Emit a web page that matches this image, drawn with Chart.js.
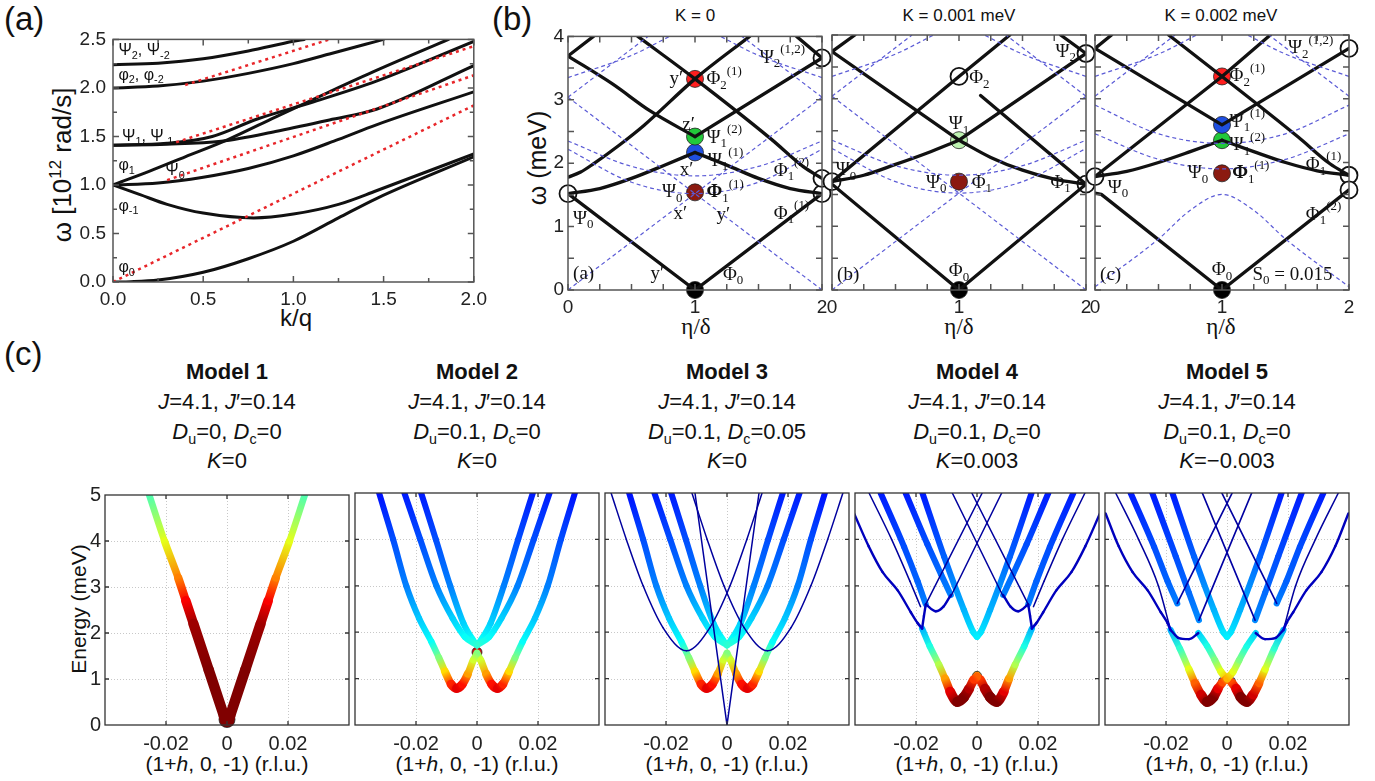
<!DOCTYPE html>
<html>
<head>
<meta charset="utf-8">
<script src="https://cdn.jsdelivr.net/npm/chart.js@4.4.1/dist/chart.umd.min.js"></script>
<style>
  body { margin: 0; width: 1375px; height: 781px; background: #fff; position: relative; overflow: hidden;
         font-family: "Liberation Sans", Arial, sans-serif; color: #111; }
  canvas { position: absolute; }
  .t { position: absolute; white-space: nowrap; line-height: 1; }
  .c { transform: translate(-50%, -50%); }
  .rot { transform: translate(-50%, -50%) rotate(-90deg); }
  .serif { font-family: "Liberation Serif", "DejaVu Serif", serif; }
  sub, sup { font-size: 0.65em; line-height: 0; }
</style>
</head>
<body>

<div class="t" style="left:4px;top:2px;font-size:33px">(a)</div>
<div class="t" style="left:492px;top:2px;font-size:33px">(b)</div>
<div class="t" style="left:4px;top:337px;font-size:33px">(c)</div>

<div class="t rot" style="left:62px;top:165px;font-size:26px">ω [10<sup>12</sup> rad/s]</div>
<div class="t c" style="left:296px;top:318px;font-size:24px">k/q</div>

<div class="t rot" style="left:537px;top:158px;font-size:25px">ω (meV)</div>
<div class="t c" style="left:695px;top:15px;font-size:17px">K = 0</div>
<div class="t c" style="left:959px;top:15px;font-size:17px">K = 0.001 meV</div>
<div class="t c" style="left:1221px;top:15px;font-size:17px">K = 0.002 meV</div>
<div class="t c serif" style="left:696px;top:326px;font-size:23px">η/δ</div>
<div class="t c serif" style="left:959px;top:326px;font-size:23px">η/δ</div>
<div class="t c serif" style="left:1221px;top:326px;font-size:23px">η/δ</div>

<div class="t rot" style="left:78px;top:609px;font-size:21px">Energy (meV)</div>
<div id="titles"></div>

<script>
// ---------- panel (a): omega vs k/q ----------
const aPsi2   = [[0,2.24],[0.25,2.255],[0.5,2.3],[0.75,2.38],[1.0,2.48],[1.06,2.5]];
const aPhi2   = [[0,2.0],[0.25,2.02],[0.5,2.07],[0.75,2.15],[1.0,2.25],[1.2,2.35],[1.4,2.45],[1.5,2.5]];
const aPhi1   = [[0,1.0],[0.2,1.14],[0.4,1.29],[0.64,1.47],[0.9,1.7],[1.2,1.96],[1.46,2.18],[1.86,2.5]];
const aPsi1p  = [[0,1.41],[0.3,1.43],[0.55,1.5],[0.8,1.68],[1.1,1.85],[1.46,2.07],[2,2.48]];
const aPsi1m  = [[0,1.41],[0.3,1.42],[0.6,1.45],[0.9,1.55],[1.2,1.67],[1.46,1.78],[2,2.23]];
const aPsi0   = [[0,1.0],[0.25,1.02],[0.5,1.08],[0.75,1.17],[1.0,1.3],[1.25,1.47],[1.46,1.62],[2,1.96]];
const aPhim1  = [[0,1.0],[0.15,0.9],[0.3,0.8],[0.5,0.71],[0.78,0.66],[1.0,0.7],[1.25,0.8],[1.46,0.94],[2,1.32]];
const aPhi0   = [[0,0],[0.1,0.003],[0.25,0.02],[0.5,0.1],[0.75,0.24],[1.0,0.42],[1.25,0.66],[1.46,0.86],[2,1.29]];
const aRed1   = [[0,0],[2,1.82]];
const aRed2   = [[0.3,1.05],[2,2.13]];
const aRed3   = [[0.35,1.44],[2,2.43]];
const aRed4   = [[0.4,2.03],[1.2,2.5]];
const aXTicks = [0, 0.5, 1, 1.5, 2];
const aYTicks = [0, 0.5, 1, 1.5, 2, 2.5];

// ---------- panel (b): omega vs eta/delta, three K values ----------
const b1Str = [
  [[0,1.52],[1,0],[2,1.52]],
  [[0.2,4],[0,3.69]],
  [[1,2.42],[2,3.66],[2.2,4]],
  [[1.8,4],[2,3.66]]
];
const b1Crv = [
  [[0,1.52],[0.25,1.6],[0.5,1.76],[0.75,1.96],[1,2.17]],
  [[1,2.17],[1.25,1.97],[1.5,1.76],[1.75,1.6],[2,1.52]],
  [[0,3.69],[0.35,3.25],[0.65,2.82],[1,2.42]],
  [[0,1.78],[0.1,1.86],[0.2,1.99],[0.4,2.28],[0.6,2.6],[1,3.33],[1.43,4]],
  [[0.55,4],[1,3.33],[1.6,2.38],[1.85,1.95],[2,1.76]]
];
const b1Open = [[0,1.52],[2,1.52],[2,1.76],[2,3.66]];
const b1Dots = [[1,0],[1,1.54],[1,2.17],[1,2.42],[1,3.33]];

const b2Str = [
  [[0,1.66],[1,0],[2,1.66]],
  [[0.18,4],[0,3.74],[1,2.35],[2,3.71]],
  [[0,1.7],[1,3.35],[1.4,4]],
  [[1.17,3.05],[2,1.66]],
  [[1.8,4],[2,3.71]]
];
const b2Crv = [
  [[0,1.7],[0.25,1.8],[0.5,1.97],[0.75,2.15],[1,2.35]],
  [[1,2.35],[1.25,2.08],[1.5,1.88],[1.75,1.74],[2,1.66]]
];
const b2Open = [[0,1.7],[1,3.35],[2,1.66],[2,3.71]];
const b2Dots = [[1,0],[1,1.7],[1,2.35]];

const b3Str = [
  [[0,1.52],[0.05,1.5],[1,0],[2,1.57]],
  [[0.13,4],[0,3.79],[1,2.59],[2,3.79]],
  [[0,1.78],[1,3.35],[1.38,4]]
];
const b3Crv = [
  [[0,1.78],[0.25,1.86],[0.5,2.0],[0.75,2.17],[1,2.35]],
  [[1,2.35],[1.25,2.17],[1.5,2.0],[1.75,1.87],[2,1.8]],
  [[0.58,4],[1,3.35],[1.6,2.4],[1.85,1.98],[2,1.8]]
];
const b3Open = [[0,1.78],[2,1.8],[2,1.57],[2,3.79]];
const b3Dots = [[1,0],[1,1.83],[1,2.35],[1,2.59],[1,3.35]];

const bDash = [
  [[0,0],[2,3.04]], [[2,0],[0,3.04]],
  [[0,3.04],[0.63,4]], [[2,3.04],[1.37,4]],
  [[0,2.22],[0.5,1.7],[1,1.52],[1.5,1.7],[2,2.22]],
  [[0,2.35],[0.5,1.95],[1,1.8],[1.5,1.95],[2,2.35]],
  [[0,3.35],[0.5,3.7],[0.8,4]], [[2,3.35],[1.5,3.7],[1.2,4]]
];
const b3Dash = [
  [[0,0.05],[0.5,0.8],[0.75,1.25],[1,1.5],[1.25,1.25],[1.5,0.8],[2,0.05]],
  [[0,3.04],[0.63,4]], [[2,3.04],[1.37,4]],
  [[0,2.45],[0.5,2.05],[1,1.9],[1.5,2.05],[2,2.45]],
  [[0,2.9],[0.5,2.45],[1,2.3],[1.5,2.45],[2,2.9]],
  [[0,3.35],[0.5,3.7],[0.8,4]], [[2,3.35],[1.5,3.7],[1.2,4]]
];
const bXTicks = [0, 1, 2];
const bYTicks = [0, 1, 2, 3, 4];

// ---------- panel (c): energy vs (1+h,0,-1), points are [h, E, intensity] ----------
const m1Left  = [[-0.0255,5,0.45],[-0.0205,4,0.6],[-0.016,3.2,0.75],[-0.0135,2.7,0.88],[-0.011,2.2,0.97],[-0.006,1.2,1],[-0.001,0.2,1],[0,0,1]];

const m2Outer = [[-0.0321,5,0.14],[-0.0275,4,0.2],[-0.0232,3,0.25],[-0.019,2.3,0.32],[-0.015,1.8,0.38],[-0.0125,1.45,0.5],[-0.0105,1.15,0.66],[-0.0085,0.88,0.84],[-0.0067,0.79,0.9],[-0.0048,0.88,0.86],[-0.003,1.1,0.72],[-0.0012,1.4,0.58],[0,1.55,0.5]];
const m2Mid   = [[-0.0238,5,0.15],[-0.0186,4,0.2],[-0.0133,3,0.25],[-0.008,2.3,0.33],[-0.004,1.9,0.38],[0,1.72,0.42]];
const m2Inner = [[-0.0183,5,0.15],[-0.0135,4,0.2],[-0.0088,3,0.25],[-0.0045,2.2,0.33],[-0.0015,1.85,0.38],[0,1.72,0.42]];

const m3ThinL = [[-0.038,5,0.03],[-0.033,4,0.03],[-0.0275,3,0.03],[-0.021,2.1,0.03],[-0.0133,1.6,0.03],[-0.0056,2.1,0.03],[0.001,3,0.03],[0.0065,4,0.03],[0.0115,5,0.03]];
const m3Vee   = [[-0.0105,5,0.03],[0,0,0.03]];

const m4Outer = [[-0.0316,5,0.15],[-0.0239,3.84,0.2],[-0.0195,3.1,0.22],[-0.0168,2.6,0.25]];
const m4Mid   = [[-0.0234,5,0.15],[-0.0163,3.9,0.2],[-0.0118,3.25,0.23],[-0.0086,2.8,0.25]];
const m4Inner = [[-0.0179,5,0.15],[-0.0108,3.63,0.22],[-0.0043,2.48,0.3],[-0.0012,2.0,0.35],[0,1.9,0.36]];
const m4Low   = [[-0.018,2.08,0.3],[-0.0155,1.7,0.4],[-0.0125,1.3,0.55],[-0.0105,1.0,0.72],[-0.0088,0.72,0.9],[-0.0064,0.5,1],[-0.0043,0.6,1],[-0.0026,0.78,0.95],[-0.001,0.98,0.82],[0,1.04,0.78]];
const m4Navy  = [[-0.0403,4.56,0.06],[-0.0355,3.85,0.06],[-0.031,3.3,0.06],[-0.026,2.9,0.06],[-0.0217,2.43,0.06],[-0.0195,2.2,0.06],[-0.018,2.08,0.08]];
const m4Hook  = [[-0.0168,2.6,0.06],[-0.0135,2.45,0.06],[-0.011,2.55,0.06],[-0.0086,2.8,0.06]];
const m4Link  = [[-0.018,2.08,0.06],[-0.0174,2.35,0.06],[-0.0168,2.6,0.06]];
const m4ThinA = [[-0.0168,2.6,0.03],[0.0017,5,0.03]];
const m4ThinB = [[-0.0081,5,0.03],[0.0086,2.77,0.03]];
const m4ThinC = [[-0.0354,5,0.03],[-0.028,4,0.03],[-0.022,3.1,0.03],[-0.0185,2.55,0.03]];

const m5Outer = [[-0.0316,5,0.15],[-0.0239,3.84,0.2],[-0.0195,3.1,0.22],[-0.0163,2.62,0.25]];
const m5Mid   = [[-0.0245,5,0.15],[-0.0168,3.63,0.2],[-0.0125,2.85,0.23],[-0.0092,2.26,0.26]];
const m5Inner = [[-0.0179,5,0.15],[-0.0108,3.63,0.22],[-0.0043,2.48,0.3],[-0.0012,2.0,0.35],[0,1.9,0.36]];
const m5Low   = [[-0.0185,2.05,0.3],[-0.0155,1.65,0.42],[-0.0125,1.2,0.6],[-0.0105,0.9,0.78],[-0.0085,0.65,0.92],[-0.0065,0.5,1],[-0.0045,0.6,1],[-0.003,0.78,0.9],[-0.0015,0.92,0.8],[0,1.0,0.7],[0.002,1.15,0.6],[0.004,1.4,0.5],[0.0065,1.7,0.4],[0.0094,1.98,0.33]];
const m5Navy  = [[-0.0398,4.56,0.06],[-0.0355,3.85,0.06],[-0.031,3.3,0.06],[-0.026,2.9,0.06],[-0.0217,2.43,0.06],[-0.0195,2.2,0.06],[-0.0185,2.05,0.08]];
const m5Hook  = [[-0.0185,2.05,0.06],[-0.016,1.88,0.06],[-0.0125,1.85,0.06],[-0.0094,1.98,0.06]];
const m5ThinA = [[-0.0163,2.62,0.04],[0.0017,5,0.03]];
const m5ThinB = [[-0.0092,2.26,0.04],[0.0081,5,0.03]];
const m5ThinC = [[-0.0365,5,0.03],[-0.029,4,0.03],[-0.0225,3,0.03],[-0.0185,2.05,0.03]];

const cXTicks = [-0.02, 0, 0.02];
const cYTicks = [0, 1, 2, 3, 4, 5];

const models = [
  ['Model 1', '<i>J</i>=4.1, <i>J</i>′=0.14', '<i>D</i><sub>u</sub>=0, <i>D</i><sub>c</sub>=0', '<i>K</i>=0'],
  ['Model 2', '<i>J</i>=4.1, <i>J</i>′=0.14', '<i>D</i><sub>u</sub>=0.1, <i>D</i><sub>c</sub>=0', '<i>K</i>=0'],
  ['Model 3', '<i>J</i>=4.1, <i>J</i>′=0.14', '<i>D</i><sub>u</sub>=0.1, <i>D</i><sub>c</sub>=0.05', '<i>K</i>=0'],
  ['Model 4', '<i>J</i>=4.1, <i>J</i>′=0.14', '<i>D</i><sub>u</sub>=0.1, <i>D</i><sub>c</sub>=0', '<i>K</i>=0.003'],
  ['Model 5', '<i>J</i>=4.1, <i>J</i>′=0.14', '<i>D</i><sub>u</sub>=0.1, <i>D</i><sub>c</sub>=0', '<i>K</i>=−0.003']
];

// ---------- helpers ----------
const M = { l: 60, r: 14, t: 14, b: 44 };

function jet(t) {
  const cl = v => Math.max(0, Math.min(1, v));
  const r = cl(1.5 - Math.abs(4 * t - 3)), g = cl(1.5 - Math.abs(4 * t - 2)), b = cl(1.5 - Math.abs(4 * t - 1));
  return 'rgb(' + Math.round(r * 255) + ',' + Math.round(g * 255) + ',' + Math.round(b * 255) + ')';
}
function widthFor(i) { return i < 0.1 ? 0.6 + 30 * i : 6 + 4.5 * i * i * i; }
const mirror = pts => pts.map(p => [-p[0], p[1], p[2]]).reverse();
const xy = pts => pts.map(p => ({ x: p[0], y: p[1] }));

function line(pts, color, width, extra) {
  return Object.assign({ data: xy(pts), showLine: true, pointRadius: 0, borderColor: color,
    borderWidth: width, cubicInterpolationMode: 'monotone', borderCapStyle: 'round', borderJoinStyle: 'round' }, extra || {});
}
function straight(pts, color, width, extra) {
  return line(pts, color, width, Object.assign({ cubicInterpolationMode: 'default', tension: 0 }, extra || {}));
}
function jetLine(pts) {
  const I = pts.map(p => p[2]);
  return {
    data: xy(pts), showLine: true, pointRadius: 0, cubicInterpolationMode: 'monotone',
    borderCapStyle: 'round', borderJoinStyle: 'round', borderWidth: widthFor(I[0]), borderColor: jet(I[0]),
    segment: {
      borderColor: ctx => {
        const g = ctx.chart.ctx.createLinearGradient(ctx.p0.x, ctx.p0.y, ctx.p1.x, ctx.p1.y);
        g.addColorStop(0, jet(I[ctx.p0DataIndex]));
        g.addColorStop(1, jet(I[ctx.p1DataIndex]));
        return g;
      },
      borderWidth: ctx => (widthFor(I[ctx.p0DataIndex]) + widthFor(I[ctx.p1DataIndex])) / 2
    }
  };
}
const both = c => [jetLine(c), jetLine(mirror(c))];
function dots(pts, colors, radius, open) {
  return { data: xy(pts), showLine: false, pointRadius: radius, clip: 20,
    pointBackgroundColor: open ? '#fff' : colors, pointBorderColor: open ? '#111' : '#222',
    pointBorderWidth: open ? 1.8 : 0.8 };
}

// frame, inward ticks, dotted grid and in-plot labels
const framePlugin = {
  id: 'frame',
  beforeDatasetsDraw(chart, args, o) {
    const { ctx, chartArea: a, scales: { x, y } } = chart;
    if (!o.grid) return;
    ctx.save();
    ctx.strokeStyle = '#c8c8c8'; ctx.lineWidth = 1; ctx.setLineDash([1, 2]);
    o.grid.x.forEach(v => { const px = Math.round(x.getPixelForValue(v)) + 0.5; ctx.beginPath(); ctx.moveTo(px, a.top); ctx.lineTo(px, a.bottom); ctx.stroke(); });
    o.grid.y.forEach(v => { const py = Math.round(y.getPixelForValue(v)) + 0.5; ctx.beginPath(); ctx.moveTo(a.left, py); ctx.lineTo(a.right, py); ctx.stroke(); });
    ctx.restore();
  },
  afterDatasetsDraw(chart, args, o) {
    const { ctx, chartArea: a, scales: { x, y } } = chart;
    ctx.save();
    ctx.strokeStyle = o.color || '#444'; ctx.lineWidth = o.width || 1.5;
    const tk = (vals, len) => {
      (vals.x || []).forEach(v => { const px = x.getPixelForValue(v);
        ctx.beginPath(); ctx.moveTo(px, a.bottom); ctx.lineTo(px, a.bottom - len); ctx.moveTo(px, a.top); ctx.lineTo(px, a.top + len); ctx.stroke(); });
      (vals.y || []).forEach(v => { const py = y.getPixelForValue(v);
        ctx.beginPath(); ctx.moveTo(a.left, py); ctx.lineTo(a.left + len, py); ctx.moveTo(a.right, py); ctx.lineTo(a.right - len, py); ctx.stroke(); });
    };
    if (o.major) tk(o.major, o.majorLen || 6);
    if (o.minor) tk(o.minor, o.minorLen || 4);
    ctx.strokeRect(a.left, a.top, a.right - a.left, a.bottom - a.top);
    ctx.restore();
  },
  afterDraw(chart, args, o) {
    if (!o.labels) return;
    const { ctx, scales: { x, y } } = chart;
    ctx.save();
    ctx.fillStyle = '#111'; ctx.textBaseline = 'middle';
    o.labels.forEach(l => {
      let px = x.getPixelForValue(l[0]); const py = y.getPixelForValue(l[1]);
      const size = o.size || 17, fam = o.family || '"Liberation Serif", serif';
      l[2].forEach(part => {
        const kind = part[1] || '';
        const s = kind ? size * 0.68 : size;
        ctx.font = (part[2] ? 'bold ' : '') + s + 'px ' + fam;
        const dy = kind === 'sub' ? size * 0.32 : kind === 'sup' ? -size * 0.42 : 0;
        ctx.fillText(part[0], px, py + dy);
        px += ctx.measureText(part[0]).width;
      });
    });
    ctx.restore();
  }
};
Chart.register(framePlugin);

function makeChart(box, xr, yr, xt, yt, datasets, opts) {
  const cv = document.createElement('canvas');
  const W = box.w + M.l + M.r, H = box.h + M.t + M.b;
  cv.width = W; cv.height = H;
  cv.style.left = (box.l - M.l) + 'px'; cv.style.top = (box.t - M.t) + 'px';
  cv.style.width = W + 'px'; cv.style.height = H + 'px';
  document.body.appendChild(cv);
  const tickFont = { family: '"Liberation Sans", Arial, sans-serif', size: opts.tickSize };
  new Chart(cv, {
    type: 'scatter',
    data: { datasets: datasets },
    options: {
      responsive: false, animation: false, devicePixelRatio: 1,
      layout: { padding: { left: 0, right: M.r, top: M.t, bottom: 0 } },
      plugins: { legend: { display: false }, tooltip: { enabled: false }, frame: opts.frame },
      scales: {
        x: { type: 'linear', min: xr[0], max: xr[1],
             afterBuildTicks: s => { s.ticks = xt.map(v => ({ value: v })); },
             afterFit: s => { s.height = M.b; },
             grid: { display: false, drawTicks: false }, border: { display: false },
             ticks: { display: opts.xLabels !== false, font: tickFont, color: '#222', padding: opts.xPad, maxRotation: 0, autoSkip: false, callback: opts.xFmt } },
        y: { type: 'linear', min: yr[0], max: yr[1],
             afterBuildTicks: s => { s.ticks = yt.map(v => ({ value: v })); },
             afterFit: s => { s.width = M.l; },
             grid: { display: false, drawTicks: false }, border: { display: false },
             ticks: { display: opts.yLabels !== false, font: tickFont, color: '#222', padding: opts.yPad, autoSkip: false, callback: opts.yFmt } }
      }
    }
  });
}

// ---------- panel (a) ----------
const K = '#111', RED = '#e8262a';
const redOpt = { borderDash: [3, 4], borderCapStyle: 'butt' };
const aMinorX = [0.25, 0.75, 1.25, 1.75], aMinorY = [0.25, 0.75, 1.25, 1.75, 2.25];
makeChart({ l: 113, t: 35, w: 366, h: 247 }, [0, 2], [0, 2.5], aXTicks, aYTicks, [
  straight(aRed1, RED, 2.5, redOpt), straight(aRed2, RED, 2.5, redOpt), straight(aRed3, RED, 2.5, redOpt), straight(aRed4, RED, 2.5, redOpt),
  line(aPsi2, K, 3), line(aPhi2, K, 3), line(aPhi1, K, 3), line(aPsi1p, K, 3), line(aPsi1m, K, 3),
  line(aPsi0, K, 3), line(aPhim1, K, 3), line(aPhi0, K, 3)
], {
  tickSize: 19, xPad: 6, yPad: 7,
  xFmt: v => v.toFixed(1), yFmt: v => v.toFixed(1),
  frame: { color: '#555', width: 1.5, major: { x: aXTicks, y: aYTicks }, minor: { x: aMinorX, y: aMinorY }, majorLen: 6, minorLen: 4,
    size: 16, family: '"Liberation Sans", sans-serif',
    labels: [
      [0.03, 2.38, [['Ψ'], ['2', 'sub'], [', Ψ'], ['-2', 'sub']]],
      [0.03, 2.13, [['φ'], ['2', 'sub'], [', φ'], ['-2', 'sub']]],
      [0.05, 1.5,  [['Ψ'], ['1', 'sub'], [', Ψ'], ['-1', 'sub']]],
      [0.03, 1.2,  [['φ'], ['1', 'sub']]],
      [0.29, 1.15, [['Ψ'], ['0', 'sub']]],
      [0.03, 0.78, [['φ'], ['-1', 'sub']]],
      [0.03, 0.15, [['φ'], ['0', 'sub']]]
    ] }
});

// ---------- panel (b) ----------
const BLUE = '#5b5bd6';
const bMinorX = [0.25, 0.5, 0.75, 1.25, 1.5, 1.75], bMinorY = [0.5, 1.5, 2.5, 3.5];
function bPanel(l, dash, str, crv, open, dotPts, dotCols, labels, showY) {
  const ds = [];
  dash.forEach(d => ds.push(line(d, BLUE, 1.2, { borderDash: [4, 3], borderCapStyle: 'butt' })));
  str.forEach(p => ds.push(straight(p, K, 3.3)));
  crv.forEach(p => ds.push(line(p, K, 3.3)));
  ds.push(dots(open, '#fff', 8.5, true));
  ds.push(dots(dotPts, dotCols, 8.5, false));
  makeChart({ l: l, t: 35, w: 254, h: 255 }, [0, 2], [0, 4], bXTicks, bYTicks, ds, {
    tickSize: 19, xPad: 6, yPad: 4, yLabels: showY, xFmt: v => String(v), yFmt: v => String(v),
    frame: { color: '#555', width: 1.5, major: { x: bXTicks, y: bYTicks }, minor: { x: bMinorX, y: bMinorY }, majorLen: 6, minorLen: 6,
      size: 19, labels: labels }
  });
}
const sb = (t, s, p) => { const r = [[t]]; if (s) r.push([s, 'sub']); if (p) r.push([p, 'sup']); return r; };
bPanel(568, bDash, b1Str, b1Crv, b1Open, b1Dots, ['#000', '#8b1a10', '#1f4fe0', '#22c83a', '#ff1f1f'], [
  [1.51, 3.66, sb('Ψ', '2', '(1,2)')], [0.8, 3.32, [['y′']]], [1.09, 3.32, sb('Φ', '2', '(1)')],
  [0.9, 2.6, [['z′']]], [1.09, 2.4, sb('Ψ', '1', '(2)')], [1.1, 2.04, sb('Ψ', '1', '(1)')], [0.88, 1.9, [['x′']]],
  [1.62, 1.88, sb('Φ', '1', '(2)')], [0.74, 1.54, sb('Ψ', '0')], [1.09, 1.54, [['Φ', '', true], ['1', 'sub'], ['(1)', 'sup']]],
  [0.83, 1.2, [['x′']]], [1.17, 1.18, [['y′']]], [1.62, 1.2, sb('Φ', '1', '(1)')], [0.04, 1.12, sb('Ψ', '0')],
  [0.04, 0.26, [['(a)']]], [0.65, 0.26, [['y′']]], [1.22, 0.24, sb('Φ', '0')]
], true);
bPanel(832, bDash, b2Str, b2Crv, b2Open, b2Dots, ['#000', '#8b1a10', '#bdf2b0'], [
  [1.76, 3.74, sb('Ψ', '2')], [1.08, 3.32, sb('Φ', '2')], [0.92, 2.6, sb('Ψ', '1')], [0.03, 1.88, sb('Ψ', '0')],
  [0.74, 1.68, sb('Ψ', '0')], [1.1, 1.68, sb('Φ', '1')], [1.72, 1.68, sb('Φ', '1')],
  [0.04, 0.24, [['(b)']]], [0.92, 0.29, sb('Φ', '0')]
], false);
bPanel(1095, b3Dash, b3Str, b3Crv, b3Open, b3Dots, ['#000', '#8b1a10', '#22c83a', '#1f4fe0', '#ff1f1f'], [
  [1.52, 3.79, sb('Ψ', '2', '(1,2)')], [1.06, 3.35, sb('Φ', '2', '(1)')], [1.06, 2.64, sb('Ψ', '1', '(1)')],
  [1.06, 2.27, sb('Ψ', '1', '(2)')], [1.66, 1.96, sb('Φ', '1', '(1)')], [0.73, 1.83, sb('Ψ', '0')],
  [1.08, 1.83, [['Φ', '', true], ['1', 'sub'], ['(1)', 'sup']]], [0.1, 1.6, sb('Ψ', '0')], [1.66, 1.18, sb('Φ', '1', '(2)')],
  [0.92, 0.31, sb('Φ', '0')], [0.04, 0.24, [['(c)']]], [1.24, 0.24, [['S', ''], ['0', 'sub'], [' = 0.015']]]
], false);

// ---------- panel (c) ----------
function cPanel(idx, ds) {
  makeChart({ l: 105 + 250 * idx, t: 493, w: 244, h: 232 }, [-0.04, 0.04], [0, 5], cXTicks, cYTicks, ds, {
    tickSize: 20, xPad: 7, yPad: 4, yLabels: idx === 0,
    xFmt: v => (v === 0 ? '0' : v.toFixed(2)), yFmt: v => String(v),
    frame: { color: '#333', width: 1.3, grid: { x: cXTicks, y: [1, 2, 3, 4] }, major: { x: cXTicks, y: [1, 2, 3, 4] }, majorLen: 4 }
  });
}
cPanel(0, both(m1Left).concat([dots([[0, 0.12]], '#800000', 8, false)]));
cPanel(1, [m2Outer, m2Mid, m2Inner].flatMap(both).concat([dots([[0, 1.57]], '#d01010', 5, false)]));
cPanel(2, [m3ThinL, m3Vee, m2Outer, m2Mid, m2Inner].flatMap(both));
cPanel(3, [m4Navy, m4ThinA, m4ThinB, m4ThinC, m4Hook, m4Link, m4Outer, m4Mid, m4Inner, m4Low].flatMap(both)
  .concat([dots([[0, 1.06]], jet(0.72), 4.5, false)]));
cPanel(4, [m5Navy, m5ThinA, m5ThinB, m5ThinC, m5Hook, m5Outer, m5Mid, m5Inner, m5Low].flatMap(both)
  .concat([dots([[-0.0016, 0.95], [0.0016, 0.95]], '#1f50ff', 3.5, false)]));

// model titles and axis titles for panel (c)
const tHost = document.getElementById('titles');
models.forEach((m, i) => {
  const cx = 227 + 250 * i;
  [372, 402, 432, 461].forEach((y, j) => {
    const d = document.createElement('div');
    d.className = 't c';
    d.style.left = cx + 'px'; d.style.top = y + 'px'; d.style.fontSize = '22px';
    if (j === 0) d.style.fontWeight = 'bold';
    d.innerHTML = m[j];
    tHost.appendChild(d);
  });
  const xl = document.createElement('div');
  xl.className = 't c';
  xl.style.left = cx + 'px'; xl.style.top = '763px'; xl.style.fontSize = '21px';
  xl.innerHTML = '(1+<i>h</i>, 0, -1) (r.l.u.)';
  tHost.appendChild(xl);
});
</script>
</body>
</html>
